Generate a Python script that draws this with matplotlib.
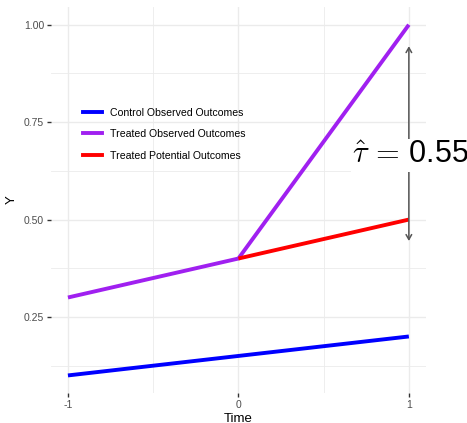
import matplotlib.pyplot as plt
from matplotlib.lines import Line2D

plt.rcParams['font.family'] = ['Liberation Sans', 'DejaVu Sans']
plt.rcParams['mathtext.fontset'] = 'cm'

# data
time_control = [-1, 1]
y_control = [0.1, 0.2]
time_treated = [-1, 0, 1]
y_treated = [0.3, 0.4, 1.0]
time_potential = [0, 1]
y_potential = [0.4, 0.5]
arrow_x = 1
arrow_y = [0.445, 0.945]
tau_label = r'$\hat{\tau}\,=\,$' + '0.55'
tau_y = 0.665

series_names = ['Control Observed Outcomes', 'Treated Observed Outcomes',
                'Treated Potential Outcomes']
series_colors = ['#0000FF', '#A020F0', '#FF0000']

fig = plt.figure(figsize=(4.67, 4.23), dpi=100)
ax = fig.add_axes([0.109, 0.071, 0.803, 0.912])

ax.plot(time_control, y_control, color=series_colors[0], lw=2.8, solid_capstyle='butt', zorder=3)
ax.plot(time_treated, y_treated, color=series_colors[1], lw=2.8, solid_capstyle='butt', zorder=3)
ax.plot(time_potential, y_potential, color=series_colors[2], lw=2.8, solid_capstyle='butt', zorder=4)

ax.annotate('', xy=(arrow_x, arrow_y[1]), xytext=(arrow_x, arrow_y[0]),
            arrowprops=dict(arrowstyle='<->,head_length=0.35,head_width=0.2',
                            color='#555555', lw=1.1, shrinkA=0, shrinkB=0),
            zorder=5)
ax.text(arrow_x + 0.01, tau_y, tau_label, fontsize=22, ha='center', va='center',
        zorder=6, clip_on=False,
        bbox=dict(facecolor='white', edgecolor='none', pad=1.0))

ax.set_xlim(-1.1, 1.1)
ax.set_ylim(0.055, 1.045)
ax.set_xticks([-1, 0, 1])
ax.set_xticklabels(['-1', '0', '1'])
ax.set_yticks([0.25, 0.5, 0.75, 1.0])
ax.set_yticklabels(['0.25', '0.50', '0.75', '1.00'])
ax.set_xticks([-0.5, 0.5], minor=True)
ax.set_yticks([0.125, 0.375, 0.625, 0.875], minor=True)

ax.grid(which='major', color='#EBEBEB', lw=1.0, zorder=0)
ax.grid(which='minor', color='#EBEBEB', lw=0.6, zorder=0)
ax.set_axisbelow(True)
for s in ax.spines.values():
    s.set_visible(False)
ax.tick_params(which='major', length=3, width=1, color='#333333',
               labelsize=7.5, labelcolor='#4D4D4D', pad=2)
ax.tick_params(which='minor', length=0)

ax.set_xlabel('Time', fontsize=9.5, labelpad=2)
ax.set_ylabel('Y', fontsize=9.5, labelpad=4)

handles = [Line2D([], [], color=c, lw=2.8) for c in series_colors]
ax.legend(handles, series_names, loc='upper left', bbox_to_anchor=(0.06, 0.764),
          frameon=False, fontsize=7.6, handlelength=1.8, handletextpad=0.8,
          labelspacing=1.08)

fig.savefig('out.png', dpi=100)
